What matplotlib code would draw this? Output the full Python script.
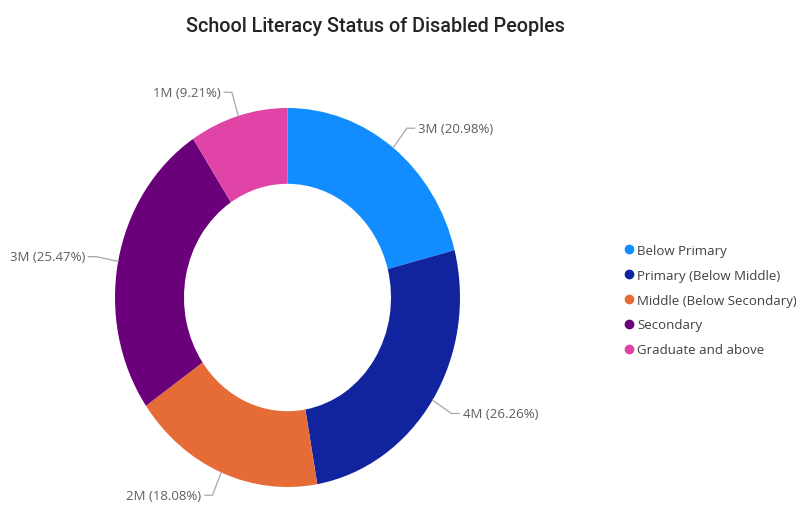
import matplotlib.pyplot as plt
from matplotlib.lines import Line2D
import numpy as np

# data
categories = ['Below Primary', 'Primary (Below Middle)', 'Middle (Below Secondary)',
              'Secondary', 'Graduate and above']
percents = [20.98, 26.26, 18.08, 25.47, 9.21]
value_labels = ['3M', '4M', '2M', '3M', '1M']
colors = ['#118DFF', '#12239E', '#E66C37', '#6B007B', '#E044A7']

W, H = 796, 506
fig = plt.figure(figsize=(W / 100, H / 100), dpi=100)

# donut is a bit taller than wide in the original, so use a stretched axes
left, right, top, bottom = 115, 460, 109, 488
ax = fig.add_axes([left / W, 1 - bottom / H, (right - left) / W, (bottom - top) / H])
wedges, _ = ax.pie(percents, colors=colors, startangle=90, counterclock=False,
                   radius=1.0, wedgeprops=dict(width=0.4, edgecolor='none'))
ax.set_aspect('auto')
ax.set_xlim(-1, 1)
ax.set_ylim(-1, 1)
ax.axis('off')

line_col = '#A6A6A6'
text_col = '#605E5C'
for w, pct, val in zip(wedges, percents, value_labels):
    ang = np.deg2rad((w.theta1 + w.theta2) / 2)
    x0, y0 = np.cos(ang), np.sin(ang)
    x1, y1 = 1.13 * x0, 1.13 * y0
    side = 1 if x0 >= 0 else -1
    x2 = x1 + side * 0.045
    ax.plot([x0, x1, x2], [y0, y1, y1], color=line_col, lw=0.9, clip_on=False)
    ax.text(x2 + side * 0.02, y1, f'{val} ({pct:.2f}%)', ha='left' if side > 0 else 'right',
            va='center', fontsize=9.5, color=text_col, family='Open Sans')

fig.text(375 / W, 1 - 27 / H, 'School Literacy Status of Disabled Peoples',
         ha='center', va='center', fontsize=14.2, color='#252423', family='Roboto',
         fontweight='medium')

handles = [Line2D([], [], marker='o', ls='none', color=c, markersize=6) for c in colors]
fig.legend(handles, categories, loc='center left', bbox_to_anchor=(620 / W, 1 - 301 / H),
           frameon=False, handlelength=0.6, handletextpad=0.3, labelspacing=0.9,
           borderaxespad=0, prop={'family': 'Open Sans', 'size': 9.5}, labelcolor='#404040')

fig.savefig('out.png', dpi=100, facecolor='white')
